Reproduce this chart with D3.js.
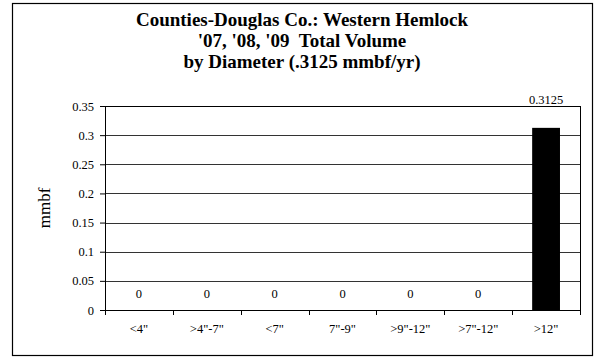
<!DOCTYPE html>
<html lang="en">
<head>
<meta charset="UTF-8">
<title>Western Hemlock Volume by Diameter</title>
<script src="https://d3js.org/d3.v7.min.js"></script>
<style>
  body { margin: 0; background: #fff; }
  text { font-family: "Liberation Serif", "Times New Roman", serif; fill: #000; }
</style>
</head>
<body>
<svg width="599" height="360"></svg>
<script>
// data
var categories = ['<4"', '>4"-7"', '<7"', '7"-9"', '>9"-12"', '>7"-12"', '>12"'];
var volumes = [0, 0, 0, 0, 0, 0, 0.3125];
var valueLabels = ["0", "0", "0", "0", "0", "0", "0.3125"];
var yTicks = [0, 0.05, 0.1, 0.15, 0.2, 0.25, 0.3, 0.35];
var titleLines = ["Counties-Douglas Co.: Western Hemlock", "'07, '08, '09  Total Volume", "by Diameter (.3125 mmbf/yr)"];

var svg = d3.select("svg");

// outer frame
svg.append("rect")
  .attr("x", 12.5).attr("y", 3.5)
  .attr("width", 580).attr("height", 352)
  .attr("fill", "#fff").attr("stroke", "#000").attr("stroke-width", 1.2);

// title
svg.selectAll(".title")
  .data(titleLines)
  .enter()
  .append("text")
  .attr("x", 302)
  .attr("y", function(d, i) { return 26 + i * 21; })
  .attr("text-anchor", "middle")
  .style("font-size", "19px")
  .style("font-weight", "bold")
  .style("white-space", "pre")
  .text(function(d) { return d; });

var margin = {top: 106, left: 105, right: 19, bottom: 50};
var width = 599 - margin.left - margin.right;
var height = 360 - margin.top - margin.bottom;

var g = svg.append("g")
  .attr("transform", "translate(" + margin.left + "," + margin.top + ")");

var x = d3.scaleBand().domain(categories).range([0, width]).paddingInner(0.59).paddingOuter(0.295);
var xb = d3.scaleBand().domain(categories).range([0, width]);
var y = d3.scaleLinear().domain([0, 0.35]).range([height, 0]);

// gridlines
g.selectAll(".grid")
  .data(yTicks.slice(1))
  .enter()
  .append("line")
  .attr("x1", 0).attr("x2", width)
  .attr("y1", function(d) { return Math.round(y(d)) + 0.5; })
  .attr("y2", function(d) { return Math.round(y(d)) + 0.5; })
  .attr("stroke", "#333").attr("stroke-width", 1);

// plot border
g.append("rect")
  .attr("x", 0.5).attr("y", 0.5)
  .attr("width", width).attr("height", height)
  .attr("fill", "none").attr("stroke", "#000");

// bars
g.selectAll(".bar")
  .data(volumes)
  .enter()
  .append("rect")
  .attr("x", function(d, i) { return x(categories[i]); })
  .attr("width", x.bandwidth())
  .attr("y", function(d) { return y(d); })
  .attr("height", function(d) { return height - y(d); })
  .attr("fill", "#000");

// value labels
g.selectAll(".vlabel")
  .data(volumes)
  .enter()
  .append("text")
  .attr("x", function(d, i) { return x(categories[i]) + x.bandwidth() / 2; })
  .attr("y", function(d) { return d > 0 ? y(d) - 24 : y(d) - 12; })
  .attr("text-anchor", "middle")
  .style("font-size", "12.5px")
  .text(function(d, i) { return valueLabels[i]; });

// y axis
var yAxis = g.append("g")
  .call(d3.axisLeft(y).tickValues(yTicks).tickSize(5).tickPadding(6)
    .tickFormat(function(d) { return String(+d.toFixed(2)); }));
yAxis.select(".domain").attr("stroke", "#000");
yAxis.selectAll("text").style("font-size", "12.5px").style("font-family", "Liberation Serif, serif");

// x axis with ticks between categories
var xAxis = g.append("g")
  .attr("transform", "translate(0," + height + ")")
  .call(d3.axisBottom(xb).tickSize(0).tickPadding(14));
xAxis.select(".domain").attr("stroke", "#000");
xAxis.selectAll("text").style("font-size", "12.5px").style("font-family", "Liberation Serif, serif");

g.selectAll(".xtick")
  .data(d3.range(categories.length + 1))
  .enter()
  .append("line")
  .attr("x1", function(i) { return Math.round(i * xb.step()) + 0.5; })
  .attr("x2", function(i) { return Math.round(i * xb.step()) + 0.5; })
  .attr("y1", height).attr("y2", height + 5)
  .attr("stroke", "#000");

// y axis label
svg.append("text")
  .attr("transform", "translate(50," + (margin.top + height / 2) + ") rotate(-90)")
  .attr("text-anchor", "middle")
  .style("font-size", "17px")
  .text("mmbf");
</script>
</body>
</html>
